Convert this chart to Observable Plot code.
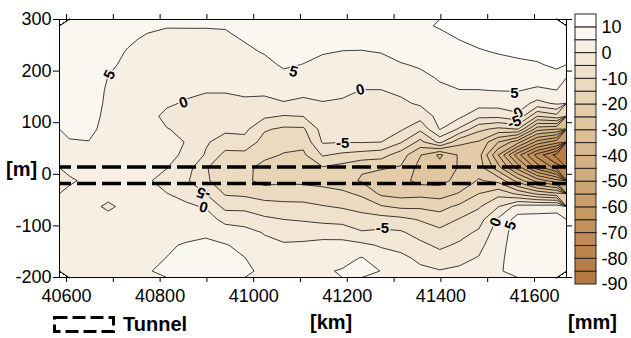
<!DOCTYPE html>
<html><head><meta charset="utf-8">
<script src="https://cdn.jsdelivr.net/npm/d3@7"></script>
<script src="https://cdn.jsdelivr.net/npm/@observablehq/plot@0.6"></script>
<style>
body{margin:0;background:#fff;}
#wrap{position:relative;width:631px;height:338px;overflow:hidden;font-family:"Liberation Sans",Arial,Helvetica,sans-serif;}
#wrap > svg, #wrap > div{position:absolute;}
</style></head><body><div id="wrap"></div>
<script>
// ---- data ----
const xDomain = [40585, 41668.4];
const yDomain = [-200, 300];
const xTicks = [40600, 40700, 40800, 40900, 41000, 41100, 41200, 41300, 41400, 41500, 41600];
const xLabelTicks = [40600, 40800, 41000, 41200, 41400, 41600];
const yTicks = [-200, -100, 0, 100, 200, 300];
const levels = [-90, -85, -80, -75, -70, -65, -60, -55, -50, -45, -40, -35, -30, -25, -20, -15, -10, -5, 0, 5, 10];
const levelColors = ["#b57842", "#b87e47", "#bb844d", "#be8b55", "#c2915c", "#c59864", "#c99e6c", "#cda574", "#d0ab7d", "#d4b285", "#d8b88e", "#dcbf97", "#e0c6a1", "#e4ccab", "#e8d3b5", "#ecdac0", "#efe1cc", "#f3e8d8", "#f7efe4", "#faf6f0", "#ffffff"];
const barTicks = [10, 0, -10, -20, -30, -40, -50, -60, -70, -80, -90];
const tunnelEdges = [14, -18];
// settlement [mm] grid, 26 columns (west->east) x 20 rows (y = 287.5 m down to -187.5 m)
const settlementRows = [
 [8, 8, 7.5, 6.5, 5.8, 5.2, 5.2, 5.2, 5.3, 6.2, 7, 8, 8.5, 8.3, 8.5, 8.5, 8.7, 9.3, 9.4, 10.3, 11.3, 12.7, 13, 13, 13, 13.2],
 [8, 8, 7, 5.7, 4.4, 4.0, 4.1, 4.1, 4.2, 5.3, 6.2, 7.2, 7.5, 6.7, 6.2, 6.5, 7.0, 8.0, 8.1, 9.0, 10.1, 11.1, 12, 12, 12.3, 12.6],
 [8, 7.8, 6.5, 4.7, 3.5, 3.2, 3.3, 3.2, 3.2, 4.2, 5.3, 6.5, 6.3, 5.3, 4.9, 4.8, 5.2, 6.6, 6.8, 7.8, 8.8, 9.6, 10.3, 10.8, 11.3, 11.8],
 [7.5, 7.5, 5.6, 4.3, 2.8, 2.4, 2.4, 2.2, 2.3, 3.0, 3.8, 5.6, 4.9, 3.9, 3.5, 3.2, 3.4, 4.7, 5.5, 6.6, 7.5, 8.1, 8.6, 9.2, 9.6, 10.8],
 [7.5, 7.3, 4.9, 3.8, 2.3, 1.8, 1.5, 1.3, 1.3, 1.9, 2.4, 3.8, 3.0, 2.5, 2.2, 1.5, 1.6, 2.8, 4.0, 5.4, 6.3, 6.5, 6.9, 7.2, 7.0, 8.5],
 [7, 7, 4.5, 3.3, 2.0, 1.2, 0.6, 0.3, 0.3, 0.6, 0.9, 1.8, 1.3, 1.2, 0.8, -0.1, -0.1, 0.9, 2.3, 4.2, 4.9, 4.9, 5.1, 5.2, 4.2, 4.9],
 [6.5, 6.5, 4.4, 3.0, 1.6, 0.4, -0.3, -1.2, -1.2, -0.6, -1.2, -0.3, -1.1, -0.2, -0.5, -1.3, -1.4, -0.9, 0.7, 2.9, 3.0, 2.1, 2.2, 2.4, -1.5, 0.8],
 [6, 6, 4.3, 2.8, 1.0, -0.7, -1.0, -2.5, -2.5, -2.2, -4.2, -5.3, -4.9, -1.6, -2.0, -2.4, -2.6, -2.6, -3.0, 1.6, 1.1, -3.8, -3.8, -1.0, -15, -12],
 [5.6, 5.5, 4.3, 2.6, 1.0, 0.1, -0.5, -3.5, -4.0, -3.8, -9.4, -10.9, -10.8, -3.0, -3.4, -3.5, -3.7, -4.3, -8.9, 0.3, -5.7, -13.7, -16.3, -15, -33, -35],
 [4.8, 4.95, 4.2, 2.5, 1.4, 0.8, -0.1, -4.4, -7.2, -6.7, -11.9, -13.5, -13.6, -4.5, -4.8, -4.7, -5, -9.5, -16.6, -8.6, -18.6, -20.5, -30, -38, -52, -58],
 [3.5, 3.5, 3.5, 2.4, 1.6, 0.6, -0.4, -5.5, -11.5, -11.5, -13.9, -15.3, -15.9, -9.5, -11, -12, -13, -17.5, -24.7, -31, -24.3, -23, -40, -58, -72, -82],
 [2.5, 2.5, 3, 2.2, 0.8, 0.1, -2.7, -9.6, -13, -13.8, -16.5, -17.8, -17.8, -15.5, -17, -19.5, -19.5, -20.5, -26.8, -28, -24.6, -22.5, -33, -47, -62, -72],
 [-1.5, 2.2, 2.8, 2.2, 0.5, -1.5, -4.2, -9.3, -12.5, -14, -16.5, -15.8, -16, -16.5, -18, -20.5, -23, -23.5, -26.5, -26.5, -23.5, -19.5, -21.5, -32, -42, -48],
 [2.5, 2.5, 2.8, 2.3, 1.3, 0.1, -1.5, -5.1, -10.5, -11, -12.4, -12.3, -12.6, -13.3, -13.9, -16, -21, -22, -21.5, -22.3, -19.6, -15, -11.6, -16, -21, -24],
 [2.5, 2.5, -1.5, 2.5, 2, 1.5, 0.8, -0.4, -6.5, -6.5, -7.8, -8.6, -8.6, -9.7, -10.5, -11.8, -14.5, -16, -15.9, -16.6, -14, -10.6, -5.2, 2, 2.5, 3],
 [3, 3, 2.8, 2.8, 2.7, 2.8, 2.5, 2.2, -1.5, -2, -4.1, -5, -5.5, -6.5, -6.9, -8, -8, -8.7, -10.4, -12.7, -9.7, -7.2, 0.8, 7, 7, 7],
 [3.2, 3.2, 3, 3.2, 3.3, 3.8, 4.0, 4.6, 2.5, 1.5, -0.3, -2.1, -1.9, -1.4, -1.9, -4.6, -4, -4.4, -7, -8.6, -6.8, -4.2, 2.8, 7, 7, 7.2],
 [3.4, 3.4, 3.3, 3.5, 3.9, 4.6, 5.3, 5.5, 5.3, 3.8, 1.2, 0.6, 0.8, 1.1, 1.4, 1.1, -0.5, -1.6, -3.8, -6, -4.2, -1.5, 3.6, 7, 7.2, 7.3],
 [3.5, 3.6, 3.6, 3.8, 4.3, 5.05, 6.0, 6, 6, 5.1, 2.6, 1.5, 2.2, 2.6, 3.4, 5.3, 2.2, 1.2, -1, -3, -1.2, 0.3, 4, 7.2, 7.3, 7.4],
 [3.5, 3.6, 3.8, 4, 4.8, 5.6, 6.5, 6.5, 6.5, 6, 3.9, 2.3, 3.5, 4.4, 5.4, 6.3, 4.9, 3.2, 1.0, 0.3, 0.8, 1.5, 4.3, 7.2, 7.3, 7.4]
];
const contourLabels = [
 {x: 40692, y: 193, t: "5", v: 5, r: -65},
 {x: 41085, y: 199, t: "5", v: 5, r: 15},
 {x: 40850, y: 139, t: "0", v: 0, r: -20},
 {x: 41228, y: 164, t: "0", v: 0, r: -15},
 {x: 41557, y: 158, t: "5", v: 5, r: 0},
 {x: 41566, y: 119, t: "0", v: 0, r: -30},
 {x: 41557, y: 101, t: "-5", v: -5, r: -20},
 {x: 41190, y: 60, t: "-5", v: -5, r: 0},
 {x: 41275, y: -105, t: "-5", v: -5, r: 0},
 {x: 40893, y: -37, t: "-5", v: -5, r: 200},
 {x: 40893, y: -64, t: "0", v: 0, r: 15},
 {x: 41517, y: -93, t: "0", v: 0, r: -70},
 {x: 41549, y: -99, t: "5", v: 5, r: -70}
];

// ---- drawing ----
const nx = settlementRows[0].length, ny = settlementRows.length;
const grid = settlementRows.flat();
const colorScale = {type: "threshold", domain: levels.slice(1), range: levelColors};
const font = '"Liberation Sans", Arial, Helvetica, sans-serif';
const plain = d => String(d);

const main = Plot.plot({
  width: 631, height: 338,
  marginTop: 19, marginLeft: 59, marginRight: 65, marginBottom: 61,
  style: {fontFamily: font, fontSize: "18px", color: "#000", background: "#fff"},
  x: {domain: xDomain},
  y: {domain: yDomain},
  color: colorScale,
  marks: [
    Plot.contour(grid, {width: nx, height: ny, x1: xDomain[0], x2: xDomain[1], y1: yDomain[1], y2: yDomain[0],
      value: Plot.identity, thresholds: levels, fill: "value", stroke: "#000", strokeWidth: 0.75}),
    Plot.ruleY(tunnelEdges, {stroke: "#000", strokeWidth: 3.5, strokeDasharray: "19,6", strokeDashoffset: 7}),
    Plot.text(contourLabels, {x: "x", y: "y", text: "t", rotate: "r", fontWeight: "bold", fontSize: 15,
      fill: "#000", stroke: "v", strokeWidth: 3, paintOrder: "stroke"}),
    Plot.frame({stroke: "#000"}),
    Plot.axisX({ticks: xTicks, tickSize: 5, tickPadding: 7, label: null,
      tickFormat: d => xLabelTicks.includes(d) ? String(d) : ""}),
    Plot.axisX({anchor: "top", ticks: xTicks, tickSize: 6, tickFormat: () => "", label: null}),
    Plot.axisY({ticks: yTicks, tickSize: 6, tickPadding: 2, label: null, tickFormat: plain}),
    Plot.axisY({anchor: "right", ticks: yTicks, tickSize: 5, tickFormat: () => "", label: null})
  ]
});
main.style.left = "0px"; main.style.top = "0px";

const bar = Plot.plot({
  width: 61, height: 300,
  marginLeft: 5, marginRight: 35, marginTop: 14, marginBottom: 16,
  style: {fontFamily: font, fontSize: "18px", color: "#000", background: "transparent"},
  x: {domain: [0, 1], axis: null},
  y: {domain: [-90, 15], axis: null},
  color: colorScale,
  marks: [
    Plot.rect(levels, {x1: 0, x2: 1, y1: d => d, y2: d => d + 5, fill: d => d, stroke: "#222", strokeWidth: 1}),
    Plot.axisY({anchor: "right", ticks: barTicks, tickSize: 0, tickPadding: 5, label: null, tickFormat: plain})
  ]
});
bar.style.left = "570px"; bar.style.top = "0px";

const wrap = document.getElementById("wrap");
wrap.appendChild(main);
wrap.appendChild(bar);

// titles and tunnel legend
const ns = "http://www.w3.org/2000/svg";
const ov = document.createElementNS(ns, "svg");
ov.setAttribute("width", 631); ov.setAttribute("height", 338);
ov.style.left = "0px"; ov.style.top = "0px"; ov.style.pointerEvents = "none";
ov.innerHTML = `
<g font-family='${font}' font-weight="bold" font-size="20" fill="#000">
  <text x="6" y="176">[m]</text>
  <text x="310" y="329">[km]</text>
  <text x="568" y="329">[mm]</text>
  <text x="123" y="331">Tunnel</text>
</g>
<rect x="54.5" y="317.5" width="59" height="14" fill="none" stroke="#000" stroke-width="3" stroke-dasharray="13,5"/>`;
wrap.appendChild(ov);
</script></body></html>
